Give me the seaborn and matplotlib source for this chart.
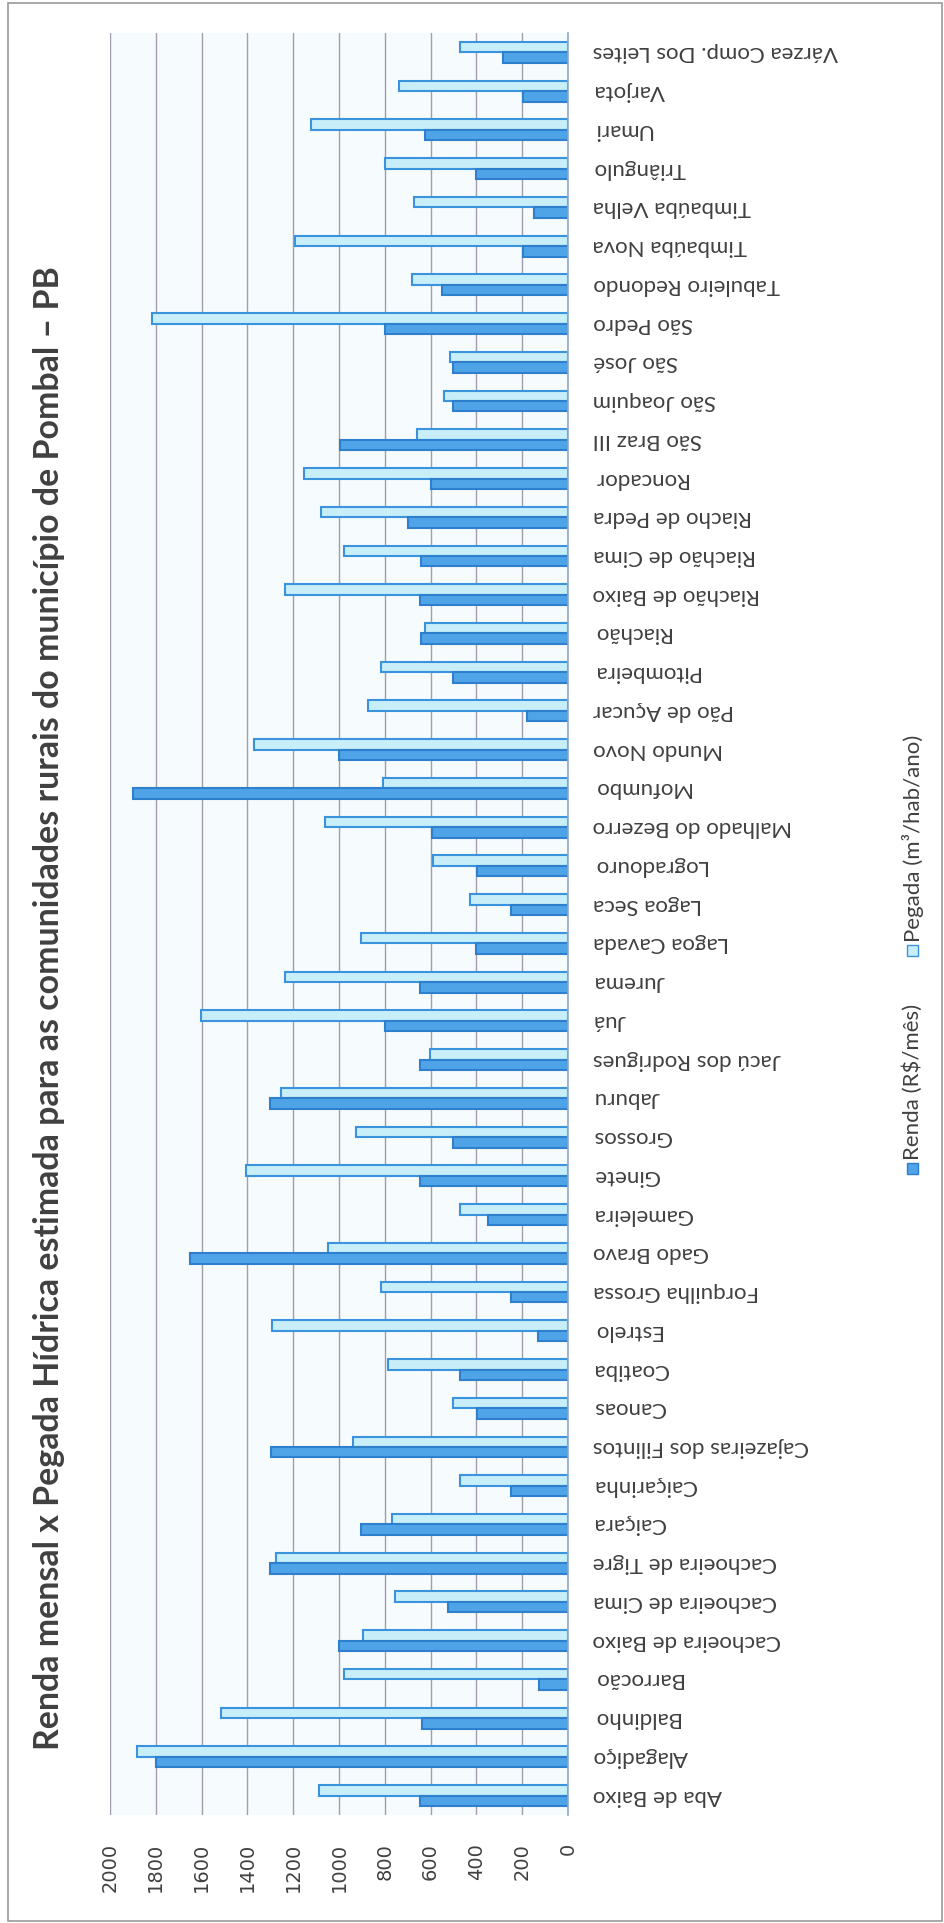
import matplotlib
matplotlib.use("Agg")
import matplotlib.pyplot as plt
from matplotlib.patches import Rectangle
import seaborn as sns
import pandas as pd

categories = [
    "Aba de Baixo", "Alagadiço", "Baldinho", "Barrocão", "Cachoeira de Baixo",
    "Cachoeira de Cima", "Cachoeira de Tigre", "Caiçara", "Caiçarinha",
    "Cajazeiras dos Filintos", "Canoas", "Coatiba", "Estrelo", "Forquilha Grossa",
    "Gado Bravo", "Gameleira", "Ginete", "Grossos", "Jaburu", "Jacú dos Rodrigues",
    "Juá", "Jurema", "Lagoa Cavada", "Lagoa Seca", "Logradouro",
    "Malhado do Bezerro", "Mofumbo", "Mundo Novo", "Pão de Açucar", "Pitombeira",
    "Riachão", "Riachão de Baixo", "Riachão de Cima", "Riacho de Pedra", "Roncador",
    "São Braz III", "São Joaquim", "São José", "São Pedro", "Tabuleiro Redondo",
    "Timbaúba Nova", "Timbaúba Velha", "Triângulo", "Umari", "Varjota",
    "Várzea Comp. Dos Leites",
]
renda = [645, 1800, 637, 128, 1000, 523, 1302, 902, 248, 1298,
         397, 473, 130, 248, 1652, 348, 647, 500, 1300, 648,
         798, 647, 400, 247, 397, 595, 1900, 998, 180, 502,
         640, 647, 640, 698, 597, 997, 500, 503, 800, 550,
         198, 150, 403, 623, 197, 283]
pegada = [1087, 1883, 1517, 980, 895, 757, 1275, 768, 470, 938,
          503, 788, 1292, 815, 1048, 473, 1405, 925, 1252, 602,
          1603, 1235, 902, 428, 590, 1062, 808, 1370, 875, 818,
          623, 1237, 977, 1078, 1155, 658, 542, 515, 1815, 682,
          1192, 673, 798, 1123, 738, 472]
series_names = ["Renda (R$/mês)", "Pegada (m³/hab/ano)"]
x_ticks = [0, 200, 400, 600, 800, 1000, 1200, 1400, 1600, 1800, 2000]
title = "Renda mensal x Pegada Hídrica estimada para as comunidades rurais do município de Pombal – PB"

df = pd.concat([
    pd.DataFrame({"cat": categories, "val": renda, "serie": series_names[0]}),
    pd.DataFrame({"cat": categories, "val": pegada, "serie": series_names[1]}),
])

sns.set_style("white")
plt.rcParams["font.family"] = ["Lato", "DejaVu Sans"]

fill_dark = "#4ea4e6"
edge_dark = "#2f7fcf"
fill_light = "#c8eef9"
edge_light = "#3a93dc"
text_col = "#404040"

fig = plt.figure(figsize=(9.45, 19.23), dpi=100)
ax = fig.add_axes([110/945, 108/1923, 458/945, 1782/1923])
ax.set_facecolor("#f6fbfd")

hue_order = [series_names[1], series_names[0]]
sns.barplot(data=df, y="cat", x="val", hue="serie", orient="h",
            order=categories[::-1], hue_order=hue_order,
            palette={series_names[0]: fill_dark, series_names[1]: fill_light},
            width=0.54, dodge=True, saturation=1, legend=False, ax=ax,
            linewidth=1.5)

edge_map = {0: edge_light, 1: edge_dark}
for i, cont in enumerate(ax.containers):
    for p in cont:
        p.set_edgecolor(edge_map[i])
        p.set_linewidth(1.5)

ax.set_xlim(2000, 0)
ax.set_xticks(x_ticks)
ax.set_xticklabels([str(t) for t in x_ticks], rotation=90,
                   fontfamily="DejaVu Sans", fontsize=14, color=text_col)
ax.tick_params(axis="x", length=0, pad=20)
ax.grid(axis="x", color="#a39cac", linewidth=1.0)
ax.set_axisbelow(True)

ax.yaxis.tick_right()
ax.tick_params(axis="y", length=0, pad=18)
for lbl in ax.get_yticklabels():
    lbl.set_rotation(180)
    lbl.set_fontsize(16)
    lbl.set_color(text_col)
    lbl.set_ha("left")
    lbl.set_va("center")
ax.set_xlabel("")
ax.set_ylabel("")

for s in ["top", "bottom", "left"]:
    ax.spines[s].set_visible(False)
ax.spines["right"].set_color("#8fa9c6")
ax.spines["right"].set_linewidth(1.2)

# title
fig.text(49/945, 1 - 1008/1923, title, rotation=90, ha="center", va="center",
         fontsize=24.4, fontweight="bold", color=text_col)

# legend (manual, rotated)
lx = 913/945
sq_w, sq_h = 11/945, 11/1923
fig.patches.append(Rectangle((lx - sq_w/2, 1 - 1174/1923), sq_w, sq_h,
                             transform=fig.transFigure, facecolor=fill_dark,
                             edgecolor=edge_dark, linewidth=1))
fig.text(lx, 1 - 1160/1923, series_names[0], rotation=90, ha="center", va="bottom",
         fontsize=16, color=text_col)
fig.patches.append(Rectangle((lx - sq_w/2, 1 - 956/1923), sq_w, sq_h,
                             transform=fig.transFigure, facecolor=fill_light,
                             edgecolor=edge_light, linewidth=1))
fig.text(lx, 1 - 942/1923, series_names[1], rotation=90, ha="center", va="bottom",
         fontsize=16, color=text_col)

# outer frame
fig.patches.append(Rectangle((8/945, 2/1923), 934/945, 1918/1923,
                             transform=fig.transFigure, fill=False,
                             edgecolor="#9a9a9a", linewidth=1.2))

fig.savefig("out.png", dpi=100)
